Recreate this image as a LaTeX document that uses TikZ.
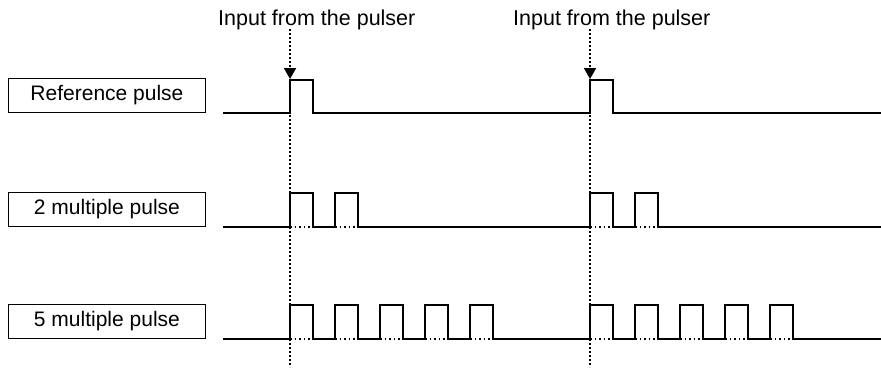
\documentclass[tikz,border=0pt]{standalone}
\usepackage{fontspec}
\setmainfont{Liberation Sans}
\usetikzlibrary{arrows.meta}
\begin{document}
\begin{tikzpicture}[x=1pt,y=-1pt,
  labelbox/.style={draw, line width=0.9pt, minimum width=197pt, minimum height=34pt, inner sep=0pt, anchor=south west, font=\fontsize{21}{25}\selectfont},
  toplabel/.style={anchor=base west, inner sep=0pt, font=\fontsize{21.5}{25}\selectfont},
  signal/.style={line width=1.8pt, line join=miter},
  basedot/.style={line width=1.2pt, dash pattern=on 1.5pt off 3pt},
  vdot/.style={line width=1.8pt, dash pattern=on 1.8pt off 2.2pt},
  inarrow/.style={-{Triangle[length=11pt,width=12pt]}}]
\useasboundingbox (0,0) rectangle (881,370);
% labels
\node[labelbox] (ref) at (8,113) {Reference pulse};
\node[labelbox] (two) at (8,227) {2 multiple pulse};
\node[labelbox] (five) at (8,339) {5 multiple pulse};
\node[toplabel] (in1) at (218,25) {Input from the pulser};
\node[toplabel] (in2) at (513,25) {Input from the pulser};
% input markers
\coordinate (top1) at (290,29);
\coordinate (tip1) at (290,79);
\coordinate (bot1) at (290,367);
\coordinate (top2) at (590,29);
\coordinate (tip2) at (590,79);
\coordinate (bot2) at (590,367);
\draw[vdot] (tip1) -- (bot1);
\draw[vdot] (tip2) -- (bot2);
\draw[vdot,inarrow] (top1) -- (tip1);
\draw[vdot,inarrow] (top2) -- (tip2);
% dotted baselines under pulses
\draw[basedot] (290,227) -- (358,227) (590,227) -- (658,227);
\draw[basedot] (290,339) -- (493,339) (590,339) -- (793,339);
% reference pulse
\draw[signal] (223,113) -- (290,113)
  -- ++(0,-33) -- ++(23,0) -- ++(0,33) -- (590,113)
  -- ++(0,-33) -- ++(23,0) -- ++(0,33) -- (881,113);
% 2 multiple pulse
\draw[signal] (223,227) -- (290,227)
  \foreach \i in {1,2} { -- ++(0,-34) -- ++(23,0) -- ++(0,34) -- ++(22,0) }
  -- (590,227)
  \foreach \i in {1,2} { -- ++(0,-34) -- ++(23,0) -- ++(0,34) -- ++(22,0) }
  -- (881,227);
% 5 multiple pulse
\draw[signal] (223,339) -- (290,339)
  \foreach \i in {1,...,5} { -- ++(0,-34) -- ++(23,0) -- ++(0,34) -- ++(22,0) }
  -- (590,339)
  \foreach \i in {1,...,5} { -- ++(0,-34) -- ++(23,0) -- ++(0,34) -- ++(22,0) }
  -- (881,339);
\end{tikzpicture}
\end{document}
